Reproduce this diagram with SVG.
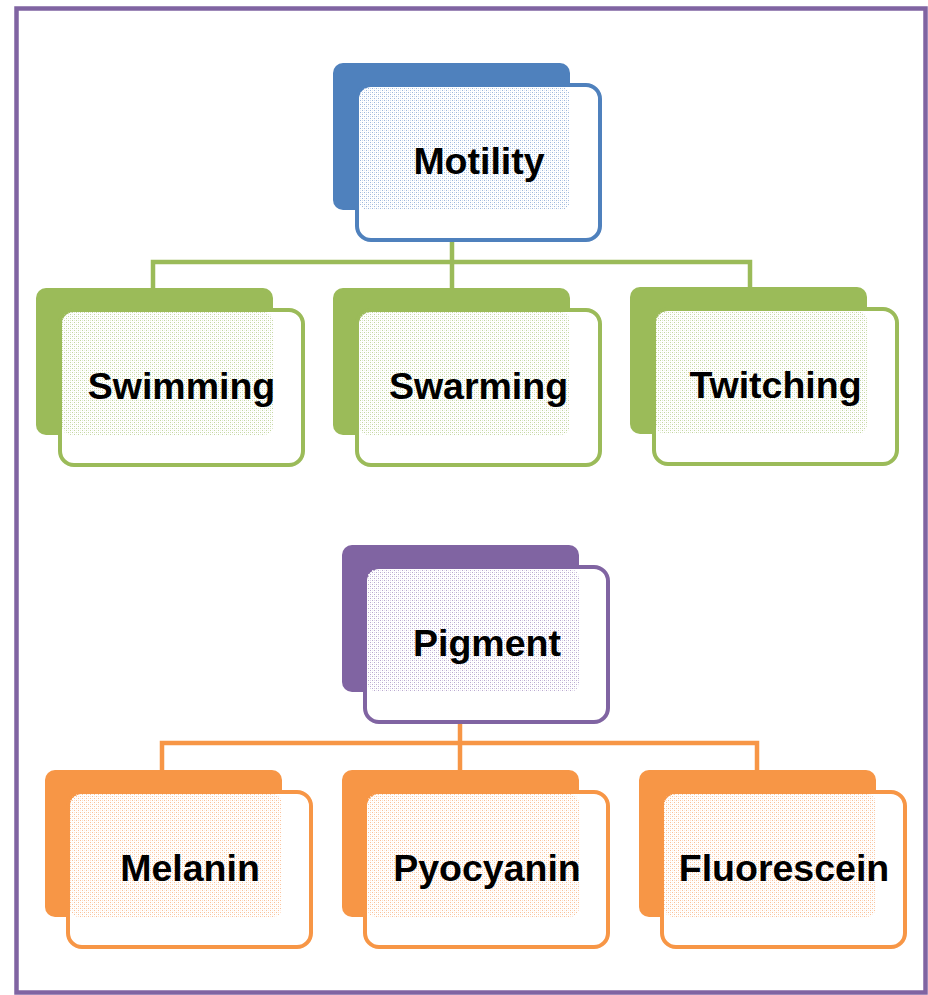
<svg xmlns="http://www.w3.org/2000/svg" width="928" height="995" viewBox="0 0 928 995">
<defs>
<pattern id="pb" width="4" height="4" patternUnits="userSpaceOnUse"><rect x="0" y="0" width="1" height="1" fill="#9db7dc"/><rect x="2" y="2" width="1" height="1" fill="#9db7dc"/><rect x="2" y="0" width="1" height="1" fill="#cfdcee"/><rect x="0" y="2" width="1" height="1" fill="#e3eaf5"/></pattern>
<pattern id="pg" width="4" height="4" patternUnits="userSpaceOnUse"><rect x="0" y="0" width="1" height="1" fill="#c3d6a0"/><rect x="2" y="2" width="1" height="1" fill="#c3d6a0"/><rect x="2" y="0" width="1" height="1" fill="#e0ead0"/><rect x="0" y="2" width="1" height="1" fill="#eef3e5"/></pattern>
<pattern id="pp" width="4" height="4" patternUnits="userSpaceOnUse"><rect x="0" y="0" width="1" height="1" fill="#b9a9cf"/><rect x="2" y="2" width="1" height="1" fill="#b9a9cf"/><rect x="2" y="0" width="1" height="1" fill="#dcd3e7"/><rect x="0" y="2" width="1" height="1" fill="#ece7f2"/></pattern>
<pattern id="po" width="4" height="4" patternUnits="userSpaceOnUse"><rect x="0" y="0" width="1" height="1" fill="#fac097"/><rect x="2" y="2" width="1" height="1" fill="#fac097"/><rect x="2" y="0" width="1" height="1" fill="#fce0cb"/><rect x="0" y="2" width="1" height="1" fill="#feefe4"/></pattern>
</defs>
<style>
.back{stroke:none}
.front{fill:#fff;stroke-width:4}
.lbl{font-family:"Liberation Sans",Arial,sans-serif;font-weight:bold;font-size:37.5px;fill:#000;text-anchor:middle}
.conn{fill:none;stroke-width:4.5}
.blue .back{fill:#4F81BD}.blue .front{stroke:#4F81BD}
.green .back{fill:#9BBB59}.green .front{stroke:#9BBB59}
.purple .back{fill:#8064A2}.purple .front{stroke:#8064A2}
.orange .back{fill:#F79646}.orange .front{stroke:#F79646}
</style>
<rect x="16.5" y="8.5" width="909" height="984" fill="#fff" stroke="#8064A2" stroke-width="4.5"/>
<g id="connectors">
<path class="conn" stroke="#9BBB59" d="M153 288V262H750V287M452 210V288"/>
<path class="conn" stroke="#F79646" d="M162 770V743H757V770M460 692V770"/>
</g>
<g id="motility" class="blue">
<rect class="back" x="333" y="63" width="237" height="147" rx="10"/>
<rect class="front" x="357" y="85" width="243" height="155" rx="14"/>
<rect x="359" y="87" width="211" height="123" rx="9" fill="url(#pb)"/>
<text class="lbl" x="479" y="174">Motility</text>
</g>
<g id="swimming" class="green">
<rect class="back" x="36" y="288" width="237" height="147" rx="10"/>
<rect class="front" x="60" y="310" width="243" height="155" rx="14"/>
<rect x="62" y="312" width="211" height="123" rx="9" fill="url(#pg)"/>
<text class="lbl" x="181.5" y="399">Swimming</text>
</g>
<g id="swarming" class="green">
<rect class="back" x="333" y="288" width="237" height="147" rx="10"/>
<rect class="front" x="357" y="310" width="243" height="155" rx="14"/>
<rect x="359" y="312" width="211" height="123" rx="9" fill="url(#pg)"/>
<text class="lbl" x="478.5" y="399">Swarming</text>
</g>
<g id="twitching" class="green">
<rect class="back" x="630" y="287" width="237" height="147" rx="10"/>
<rect class="front" x="654" y="309" width="243" height="155" rx="14"/>
<rect x="656" y="311" width="211" height="123" rx="9" fill="url(#pg)"/>
<text class="lbl" x="775.5" y="398">Twitching</text>
</g>
<g id="pigment" class="purple">
<rect class="back" x="342" y="545" width="237" height="147" rx="10"/>
<rect class="front" x="365" y="567" width="243" height="155" rx="14"/>
<rect x="367" y="569" width="212" height="123" rx="9" fill="url(#pp)"/>
<text class="lbl" x="487" y="656">Pigment</text>
</g>
<g id="melanin" class="orange">
<rect class="back" x="45" y="770" width="237" height="147" rx="10"/>
<rect class="front" x="68" y="792" width="243" height="155" rx="14"/>
<rect x="70" y="794" width="212" height="123" rx="9" fill="url(#po)"/>
<text class="lbl" x="190" y="881">Melanin</text>
</g>
<g id="pyocyanin" class="orange">
<rect class="back" x="342" y="770" width="237" height="147" rx="10"/>
<rect class="front" x="365" y="792" width="243" height="155" rx="14"/>
<rect x="367" y="794" width="212" height="123" rx="9" fill="url(#po)"/>
<text class="lbl" x="487" y="881">Pyocyanin</text>
</g>
<g id="fluorescein" class="orange">
<rect class="back" x="639" y="770" width="237" height="147" rx="10"/>
<rect class="front" x="662" y="792" width="243" height="155" rx="14"/>
<rect x="664" y="794" width="212" height="123" rx="9" fill="url(#po)"/>
<text class="lbl" x="784" y="881">Fluorescein</text>
</g>
</svg>
